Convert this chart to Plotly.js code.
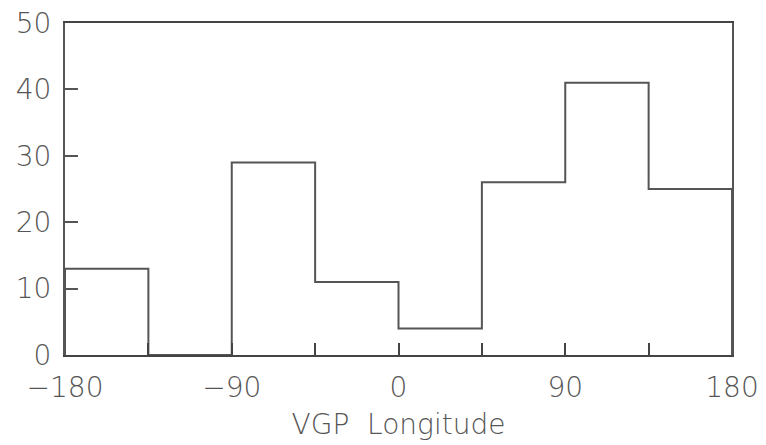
<!DOCTYPE html>
<html>
<head>
<meta charset="utf-8">
<script src="https://cdn.plot.ly/plotly-3.0.1.min.js"></script>
<style>html,body{margin:0;padding:0;background:#fff;}#chart{width:766px;height:445px;}</style>
</head>
<body>
<div id="chart"></div>
<script>
// Histogram of VGP longitudes (45-degree bins)
const binStarts = [-180, -135, -90, -45, 0, 45, 90, 135];
const binEnd = 180;
const counts = [13, 0, 29, 11, 4, 26, 41, 25];
const xTickVals = [-180, -135, -90, -45, 0, 45, 90, 135, 180];
const xTickText = ['\u2212180', '', '\u221290', '', '0', '', '90', '', '180'];
const yTickVals = [0, 10, 20, 30, 40, 50];
const xTitle = 'VGP\u00a0\u00a0Longitude';

// step outline of the histogram: each bin start with its count, closed at the last edge
const stepX = [binStarts[0]].concat(binStarts, [binEnd, binEnd]);
const stepY = [0].concat(counts, [counts[counts.length - 1], 0]);

const font = {family: 'DejaVu Sans', size: 28, color: '#555', weight: 300};

const trace = {
  type: 'scatter', mode: 'lines',
  x: stepX, y: stepY,
  line: {shape: 'hv', color: '#555', width: 2},
  hoverinfo: 'skip', cliponaxis: false
};

const layout = {
  width: 766, height: 445,
  margin: {l: 65, r: 34, t: 23, b: 90},
  paper_bgcolor: '#fff', plot_bgcolor: '#fff',
  showlegend: false,
  font: font,
  xaxis: {
    range: [-180, 180],
    tickmode: 'array', tickvals: xTickVals, ticktext: xTickText,
    ticks: 'inside', ticklen: 12, tickwidth: 2, tickcolor: '#444',
    showline: true, linecolor: '#444', linewidth: 2, mirror: true,
    showgrid: false, zeroline: false,
    tickfont: font, ticklabelstandoff: 6,
    title: {text: xTitle, font: font, standoff: 12}
  },
  yaxis: {
    range: [0, 50],
    tickmode: 'array', tickvals: yTickVals,
    ticks: 'inside', ticklen: 13, tickwidth: 2, tickcolor: '#555',
    showline: true, linecolor: '#555', linewidth: 2, mirror: true,
    showgrid: false, zeroline: false,
    tickfont: font, ticklabelstandoff: 6
  }
};

Plotly.newPlot('chart', [trace], layout, {displayModeBar: false, staticPlot: true});
</script>
</body>
</html>
